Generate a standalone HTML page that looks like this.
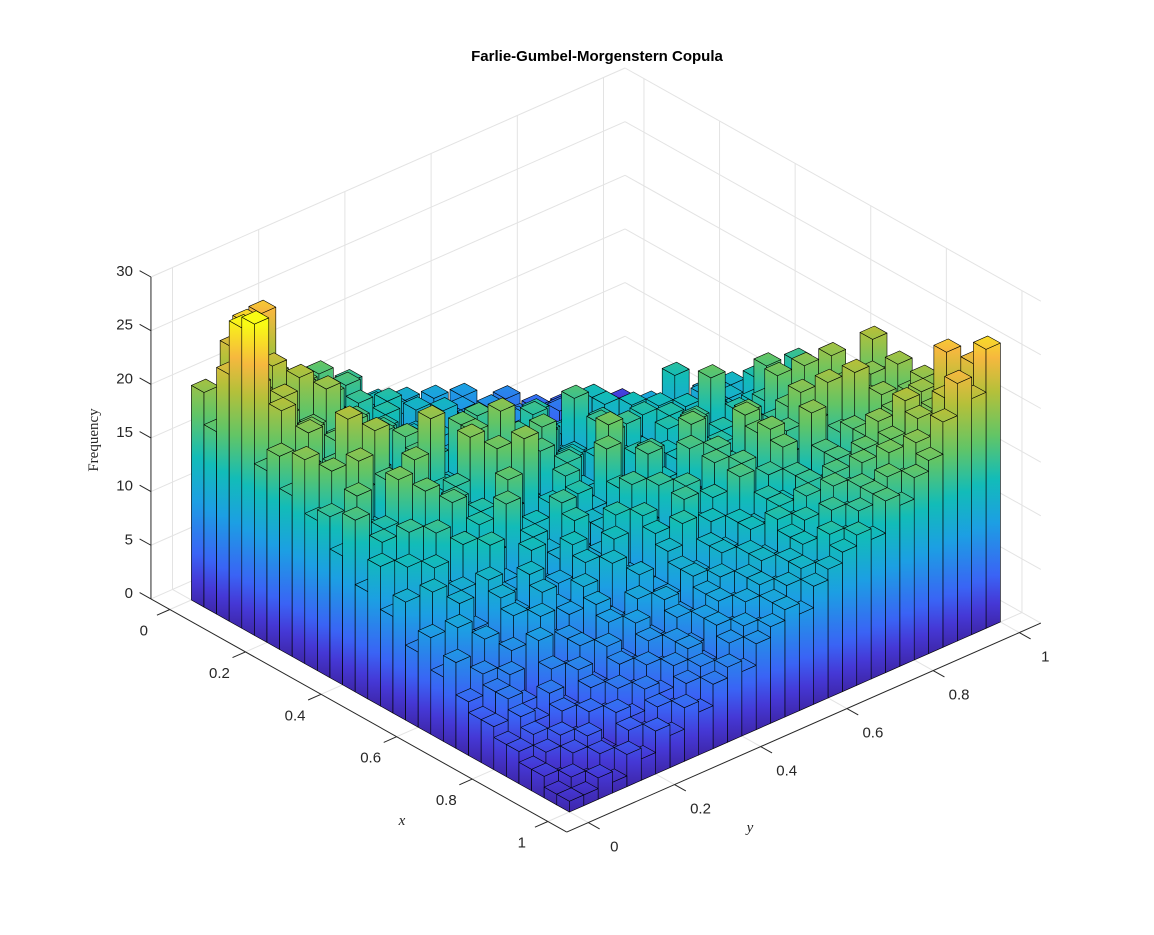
<!DOCTYPE html>
<html><head><meta charset="utf-8"><style>
html,body{margin:0;padding:0;background:#fff;}
svg{display:block;font-family:"Liberation Sans",sans-serif;}
</style></head><body>
<svg id="chart" width="1154" height="935" viewBox="0 0 1154 935" xmlns="http://www.w3.org/2000/svg">
<defs id="defs"></defs>
<rect x="0" y="0" width="1154" height="935" fill="#fff"/>
<g id="grid"></g>
<g id="bars"></g>
<g id="axes"></g>
<text x="597" y="61" text-anchor="middle" font-size="15" font-weight="bold" fill="#000">Farlie-Gumbel-Morgenstern Copula</text>
<text transform="translate(98,440) rotate(-90)" text-anchor="middle" font-size="15" font-family="Liberation Serif, serif" fill="#262626">Frequency</text>
<text x="402" y="825" text-anchor="middle" font-size="15" font-style="italic" font-family="Liberation Serif, serif" fill="#262626">x</text>
<text x="750" y="832" text-anchor="middle" font-size="15" font-style="italic" font-family="Liberation Serif, serif" fill="#262626">y</text>
</svg>
<script>
const xTicks = [0, 0.2, 0.4, 0.6, 0.8, 1];
const yTicks = [0, 0.2, 0.4, 0.6, 0.8, 1];
const zTicks = [0, 5, 10, 15, 20, 25, 30];
const xTickLabels = ["0", "0.2", "0.4", "0.6", "0.8", "1"];
const yTickLabels = ["0", "0.2", "0.4", "0.6", "0.8", "1"];
const zTickLabels = ["0", "5", "10", "15", "20", "25", "30"];
const counts = [
[20,17,23,19,25,18,16,14,17,13,15,10,12,9,11,8,10,7,9,6,5,7,4,5,3,4,2,3,1,2],
[17,21,26,16,20,15,18,13,14,16,12,13,9,11,10,8,7,9,6,8,5,6,4,3,5,2,3,2,1,1],
[23,18,20,22,15,19,14,17,12,15,11,14,10,12,8,10,9,7,8,6,7,5,4,6,3,4,2,3,2,1],
[28,22,17,18,21,14,16,15,13,12,14,10,11,9,12,8,9,6,7,8,5,6,5,3,4,3,2,2,1,2],
[29,19,21,15,17,20,13,16,12,14,11,12,9,10,8,9,7,8,6,5,7,4,5,3,4,2,3,1,2,1],
[16,21,15,18,14,16,17,12,15,11,13,10,12,9,10,8,7,8,6,7,5,6,4,5,3,4,3,2,2,1],
[18,15,19,14,17,13,15,16,11,13,12,10,11,9,8,10,7,8,7,5,6,5,4,5,3,3,2,3,2,2],
[15,17,14,16,12,15,13,11,14,12,10,11,9,10,8,9,8,7,6,7,5,6,5,4,4,3,3,2,3,2],
[19,10,16,21,12,15,9,17,11,14,8,13,16,7,12,10,14,6,11,8,13,5,9,7,10,4,8,6,3,7],
[14,18,11,15,20,9,13,16,10,12,17,8,14,11,9,15,7,12,10,6,13,8,11,5,9,7,4,10,6,8],
[15,11,19,12,16,8,14,20,13,10,17,9,12,15,7,14,11,16,8,12,10,13,6,9,14,8,11,5,9,7],
[12,17,13,9,15,18,11,14,8,16,12,19,10,13,15,9,12,7,14,11,10,8,13,9,11,6,10,12,7,9],
[16,10,14,18,11,13,9,15,19,12,10,14,8,17,11,13,10,15,9,12,14,8,11,13,7,10,12,9,11,8],
[10,14,12,8,17,11,15,13,10,18,9,12,16,11,14,7,13,10,15,12,8,14,11,9,13,12,10,14,8,11],
[13,9,15,11,12,16,8,14,10,13,19,11,9,15,12,10,16,13,8,11,14,12,10,17,9,11,13,10,12,15],
[9,13,11,15,8,12,14,10,17,11,9,13,15,10,12,18,9,14,11,13,10,15,12,8,14,11,17,12,10,13],
[11,8,13,10,14,9,12,16,10,13,11,8,14,12,17,10,12,15,9,13,16,11,14,12,10,15,13,11,16,12],
[7,12,9,11,8,14,10,9,13,11,15,10,12,9,14,11,16,13,10,17,12,14,11,15,13,18,12,14,13,16],
[9,6,11,8,12,10,7,13,9,11,14,8,12,10,15,11,13,9,16,12,14,11,17,13,15,12,19,14,16,13],
[6,10,8,5,11,9,12,7,10,13,9,11,14,10,12,15,11,13,12,16,14,18,12,15,17,13,16,20,14,17],
[8,5,9,7,10,6,11,9,8,12,10,13,9,14,11,10,15,12,16,13,11,17,14,16,19,15,13,18,16,21],
[5,7,4,8,6,10,7,9,11,8,12,10,9,13,11,15,12,14,10,16,13,18,15,12,17,20,16,14,19,18],
[4,6,7,3,9,5,8,6,10,8,7,11,9,12,14,10,13,11,16,12,15,17,13,19,14,16,21,18,15,20],
[4,6,5,3,7,6,8,5,9,7,10,8,9,11,10,12,11,13,12,14,13,15,12,16,14,17,15,19,16,18],
[3,5,4,6,4,7,5,8,6,9,7,10,8,11,9,12,10,13,12,14,13,15,14,16,15,17,16,18,17,20],
[3,4,2,5,4,6,5,7,6,8,7,9,8,10,11,9,12,11,14,13,15,12,16,14,17,19,16,18,20,19],
[2,3,4,3,5,4,6,5,7,6,8,7,9,10,9,11,12,11,13,14,12,16,15,17,14,18,21,17,19,22],
[2,1,3,4,2,5,4,6,5,7,8,6,9,8,10,11,10,12,13,12,15,14,16,15,18,17,20,19,25,21],
[1,2,1,3,2,4,3,5,4,6,7,5,8,9,8,10,11,12,11,14,13,15,16,17,16,19,18,22,21,24],
[1,1,2,1,3,2,4,3,5,4,6,7,6,8,9,10,9,11,12,13,14,13,16,15,17,18,21,24,22,26]
];
const colorStops = [[0,"#3e26a8"],[0.08,"#4538d6"],[0.17,"#3a63f5"],[0.34,"#1c9fe3"],[0.48,"#12bcb8"],[0.62,"#62c566"],[0.76,"#b4c03a"],[0.87,"#f6b83e"],[1,"#f9fb14"]];
const NS = "http://www.w3.org/2000/svg";
const X0 = -0.05, X1 = 1.05, Y0 = -0.05, Y1 = 1.05, Z0 = 0, Z1 = 30;
const ZS = 10.73;
function P(x, y, z) { return [191.4 + 378 * x + 431 * y, 600 + 212 * x - 190 * y - ZS * z]; }
function pts(list) { return list.map(p => { const q = P(p[0], p[1], p[2]); return q[0].toFixed(2) + "," + q[1].toFixed(2); }).join(" "); }
function line(g, a, b, stroke, w) {
  const l = document.createElementNS(NS, "line");
  const p = P(a[0], a[1], a[2]), q = P(b[0], b[1], b[2]);
  l.setAttribute("x1", p[0]); l.setAttribute("y1", p[1]);
  l.setAttribute("x2", q[0]); l.setAttribute("y2", q[1]);
  l.setAttribute("stroke", stroke); l.setAttribute("stroke-width", w);
  g.appendChild(l); return l;
}
function text(g, x, y, s, anchor) {
  const t = document.createElementNS(NS, "text");
  t.setAttribute("x", x); t.setAttribute("y", y);
  t.setAttribute("text-anchor", anchor); t.setAttribute("font-size", "15"); t.setAttribute("fill", "#262626");
  t.textContent = s; g.appendChild(t); return t;
}
const grid = document.getElementById("grid");
const gc = "#e3e3e3";
zTicks.forEach(z => {
  let l = line(grid, [X0, Y0, z], [X0, Y1, z], gc, 1);
  
  
  l = line(grid, [X0, Y1, z], [X1, Y1, z], gc, 1);
  
  
});
yTicks.forEach(y => {
  let l = line(grid, [X0, y, Z0], [X0, y, Z1], gc, 1);
  
  
  l = line(grid, [X0, y, Z0], [X1, y, Z0], gc, 1);
  
  
});
xTicks.forEach(x => {
  let l = line(grid, [x, Y1, Z0], [x, Y1, Z1], gc, 1);
  
  
  l = line(grid, [x, Y0, Z0], [x, Y1, Z0], gc, 1);
  
  
});
const defs = document.getElementById("defs");
const barsG = document.getElementById("bars");
const n = counts.length, m = counts[0].length;
let zmax = 0; counts.forEach(r => r.forEach(v => { if (v > zmax) zmax = v; }));
const order = [];
for (let i = 0; i < n; i++) for (let j = 0; j < m; j++) order.push([i, j]);
order.sort((a, b) => (a[0] - a[1]) - (b[0] - b[1]) || a[0] - b[0]);
order.forEach(([i, j]) => {
  const h = counts[i][j];
  if (h <= 0) return;
  const x0 = i / n, x1 = (i + 1) / n, y0 = j / m, y1 = (j + 1) / m;
  const base = P(x1, y0, 0)[1];
  const gid = "g" + i + "_" + j;
  const lg = document.createElementNS(NS, "linearGradient");
  lg.setAttribute("id", gid);
  lg.setAttribute("gradientUnits", "userSpaceOnUse");
  lg.setAttribute("x1", 0); lg.setAttribute("x2", 0);
  lg.setAttribute("y1", base); lg.setAttribute("y2", base - ZS * zmax);
  colorStops.forEach(s => {
    const st = document.createElementNS(NS, "stop");
    st.setAttribute("offset", s[0]); st.setAttribute("stop-color", s[1]);
    lg.appendChild(st);
  });
  defs.appendChild(lg);
  const g = document.createElementNS(NS, "g");
  
  
  const faces = [
    [[x0, y0, 0], [x1, y0, 0], [x1, y0, h], [x0, y0, h]],
    [[x1, y0, 0], [x1, y1, 0], [x1, y1, h], [x1, y0, h]],
    [[x0, y0, h], [x1, y0, h], [x1, y1, h], [x0, y1, h]]
  ];
  faces.forEach(f => {
    const p = document.createElementNS(NS, "polygon");
    p.setAttribute("points", pts(f));
    p.setAttribute("fill", "url(#" + gid + ")");
    p.setAttribute("stroke", "#000");
    p.setAttribute("stroke-width", "0.6");
    p.setAttribute("stroke-linejoin", "round");
    g.appendChild(p);
  });
  barsG.appendChild(g);
});
const ax = document.getElementById("axes");
let a = line(ax, [X0, Y0, Z0], [X0, Y0, Z1], "#262626", 1);


a = line(ax, [X0, Y0, Z0], [X1, Y0, Z0], "#262626", 1);


a = line(ax, [X1, Y0, Z0], [X1, Y1, Z0], "#262626", 1);


xTicks.forEach((x, k) => {
  const t = line(ax, [x, Y0, 0], [x, Y0 - 0.03, 0], "#262626", 1);
  
  
  const p = P(x, Y0, 0);
  const lb = text(ax, p[0] - 26, p[1] + 26, xTickLabels[k], "middle");
  
  
});
yTicks.forEach((y, k) => {
  const t = line(ax, [X1, y, 0], [X1 + 0.03, y, 0], "#262626", 1);
  
  
  const p = P(X1, y, 0);
  const lb = text(ax, p[0] + 26, p[1] + 29, yTickLabels[k], "middle");
  
  
});
zTicks.forEach((z, k) => {
  const t = line(ax, [X0, Y0, z], [X0 - 0.03, Y0, z], "#262626", 1);
  
  
  const p = P(X0, Y0, z);
  const lb = text(ax, p[0] - 18, p[1] - 1, zTickLabels[k], "end");
  
  
});
</script>
</body></html>
